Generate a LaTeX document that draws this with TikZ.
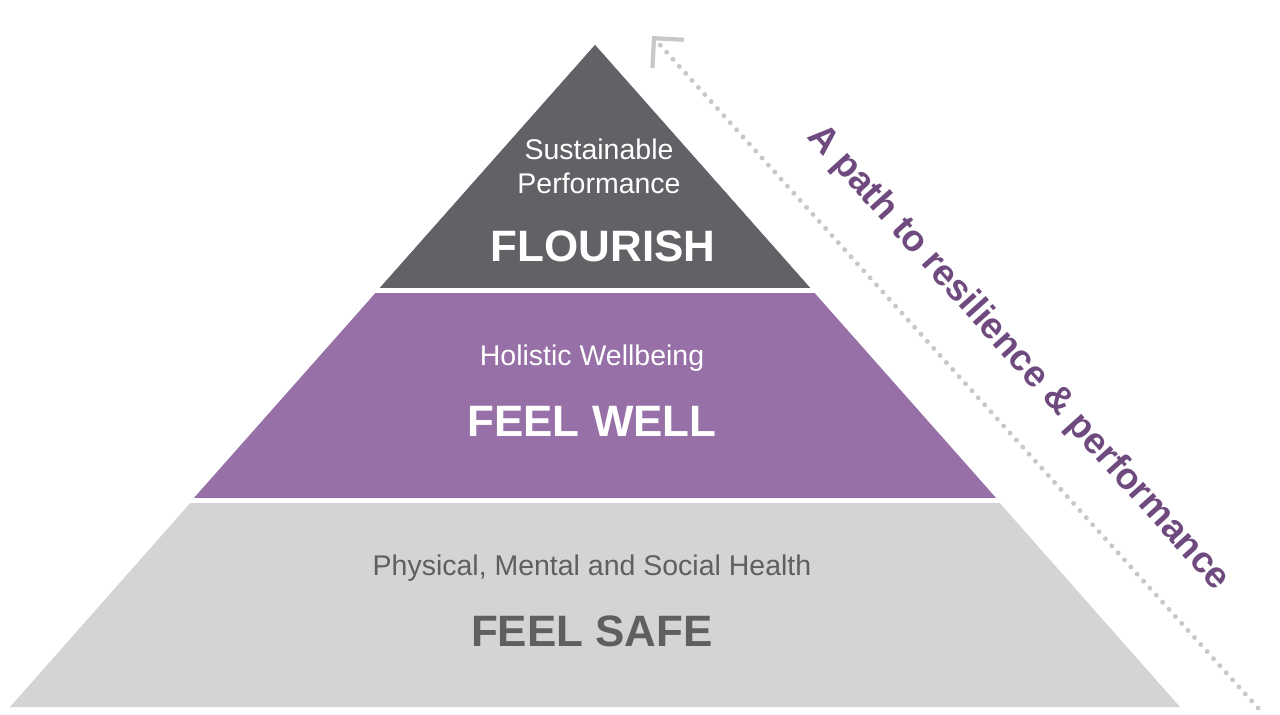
\documentclass[tikz,border=0pt]{standalone}
\usepackage{fontspec}
\setmainfont{Liberation Sans}
\usetikzlibrary{arrows.meta}
\definecolor{topcolor}{HTML}{616266}
\definecolor{midcolor}{HTML}{9670A6}
\definecolor{basecolor}{HTML}{D4D4D6}
\definecolor{basetext}{HTML}{5F5F62}
\definecolor{pathcolor}{HTML}{6E4A7E}
\definecolor{dotcolor}{HTML}{C8C8CA}
\tikzset{
  sub/.style={font=\fontsize{8.1}{9.6}\selectfont, align=center},
  head/.style={font=\fontsize{12.5}{14}\selectfont\bfseries},
  gap/.style={white, line width=1.2pt}
}
\begin{document}
\begin{tikzpicture}[x=0.01cm, y=-0.01cm]
    \useasboundingbox (0,0) rectangle (1280,714);
    % Pyramid layers
    \fill[basecolor] (10,707) -- (1180,707) -- (595,45) -- cycle;
    \fill[midcolor] (193,499) -- (997,499) -- (595,45) -- cycle;
    \fill[topcolor] (378,290) -- (812,290) -- (595,45) -- cycle;
    \draw[gap] (150,290.5) -- (1050,290.5);
    \draw[gap] (100,500.5) -- (1100,500.5);

    % Labels
    \node[sub, text=white] (flsub) at (599,166) {Sustainable\\Performance};
    \node[head, text=white] (flhead) at (603,246) {FLOURISH};
    \node[sub, text=white] (fwsub) at (592,358) {Holistic Wellbeing};
    \node[head, text=white] (fwhead) at (592,421) {FEEL WELL};
    \node[sub, text=basetext] (fssub) at (592,568) {Physical, Mental and Social Health};
    \node[head, text=basetext] (fshead) at (592,631) {FEEL SAFE};

    % Path arrow
    \coordinate (pathstart) at (1258,708);
    \coordinate (pathend) at (652,36);
    \draw[dotcolor, line width=1.4pt, line cap=round, dash pattern=on 0pt off 2.7pt,
          -{Straight Barb[length=6pt, width=12pt, line width=1.2pt]}] (pathstart) -- (pathend);
    \node[text=pathcolor, font=\fontsize{10.5}{12}\selectfont\bfseries, rotate=-48]
        (pathlabel) at (1018,358) {A path to resilience \& performance};
\end{tikzpicture}
\end{document}
